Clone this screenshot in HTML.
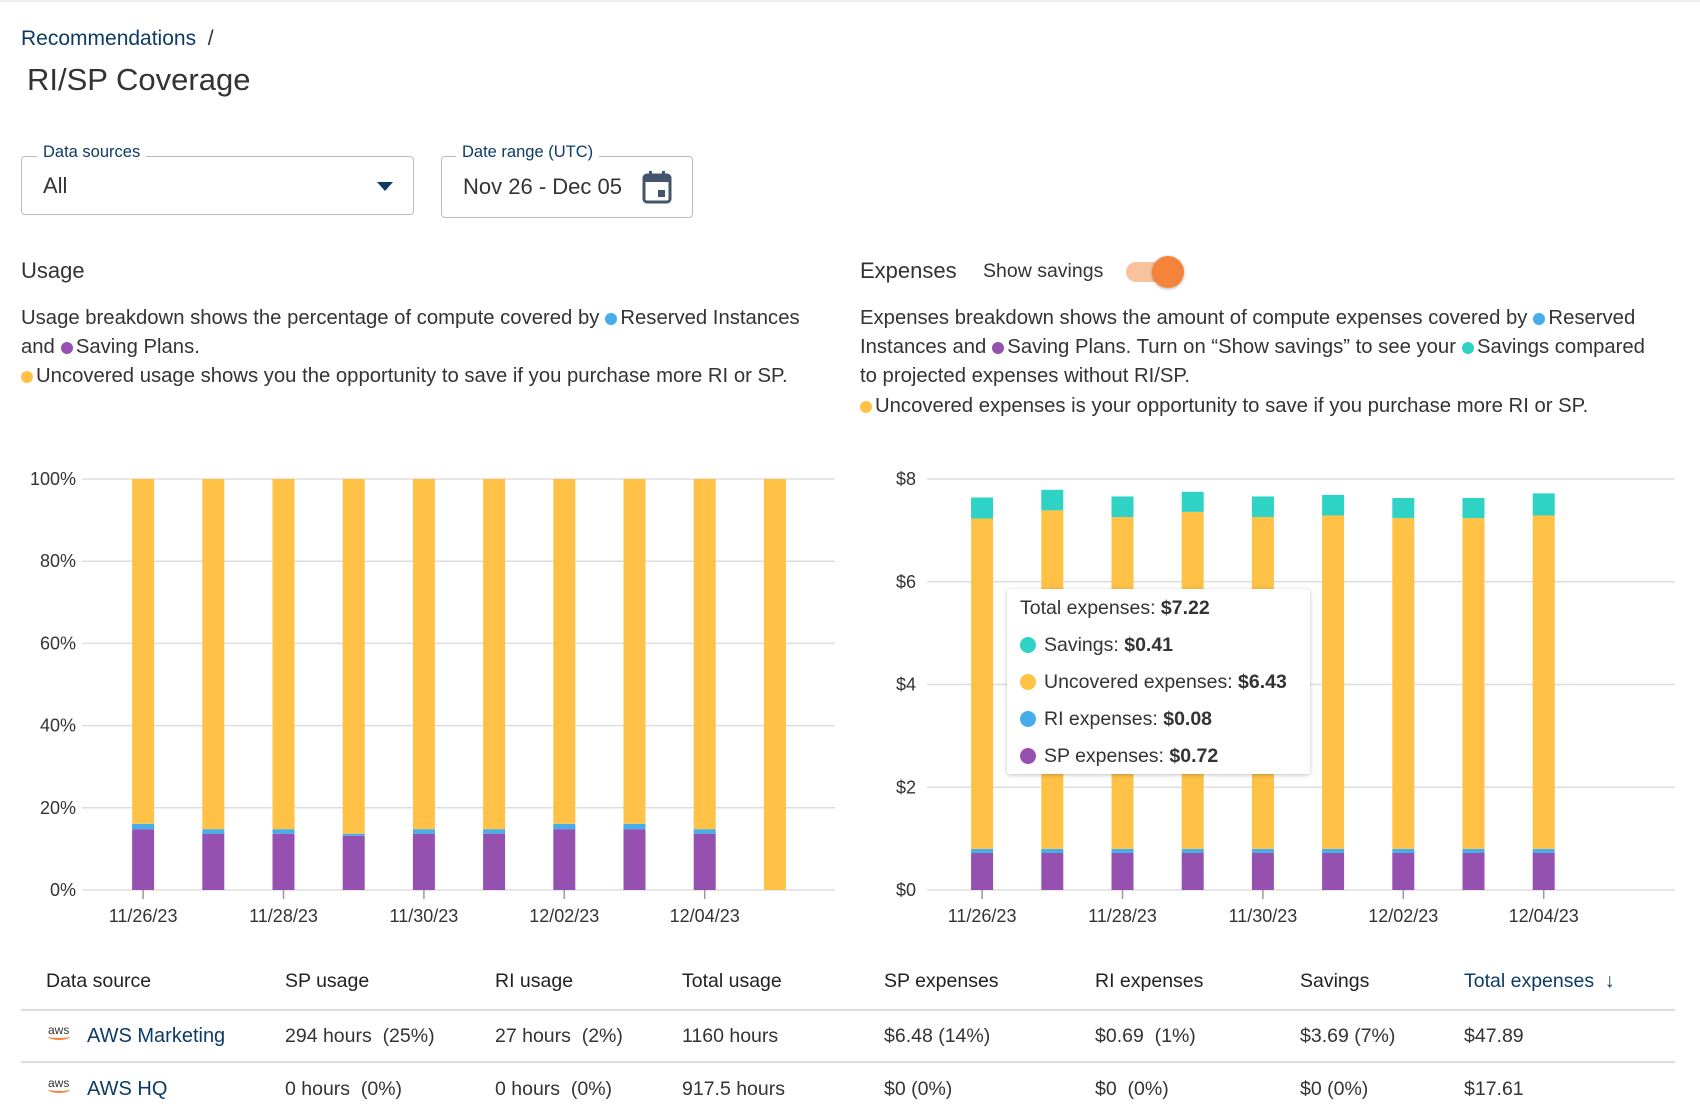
<!DOCTYPE html>
<html><head><meta charset="utf-8">
<style>
body{margin:0;width:1700px;height:1109px;background:#fff;font-family:"Liberation Sans",sans-serif;color:#333;position:relative;overflow:hidden}
.a{position:absolute;white-space:nowrap}
.dot{display:inline-block;width:12px;height:12px;border-radius:50%;vertical-align:-1px;margin:0 3px 0 2px}
.t{font-size:20.3px}
.th{font-size:19.5px;color:#222}
.td{font-size:19.5px;color:#333}
</style></head><body>
<div class="a" style="left:0;top:0;width:1700px;height:2px;background:#eee"></div>
<div class="a" style="left:21px;top:27px;font-size:21px"><span style="color:#0d3b66">Recommendations</span> <span style="color:#333">&nbsp;/</span></div>
<div class="a" style="left:27px;top:62px;font-size:31px;color:#333">RI/SP Coverage</div>

<div class="a" style="left:21px;top:156px;width:391px;height:57px;border:1.5px solid #bbb;border-radius:4px"></div>
<div class="a" style="left:37px;top:143px;padding:0 6px;background:#fff;font-size:16.5px;color:#0d3b66">Data sources</div>
<div class="a" style="left:43px;top:173px;font-size:22px;color:#333">All</div>
<div class="a" style="left:377px;top:182px;width:0;height:0;border-left:8px solid transparent;border-right:8px solid transparent;border-top:9px solid #0d3b66"></div>

<div class="a" style="left:441px;top:156px;width:250px;height:60px;border:1.5px solid #bbb;border-radius:4px"></div>
<div class="a" style="left:456px;top:143px;padding:0 6px;background:#fff;font-size:16.5px;color:#0d3b66">Date range (UTC)</div>
<div class="a" style="left:463px;top:174px;font-size:22px;color:#333">Nov 26 - Dec 05</div>
<svg class="a" style="left:642px;top:170px" width="30" height="34" viewBox="0 0 30 34"><rect x="2" y="5" width="26" height="27" rx="3" fill="none" stroke="#44546a" stroke-width="3"/><rect x="2" y="5" width="26" height="7" fill="#44546a"/><rect x="7" y="1" width="3" height="6" fill="#44546a"/><rect x="20" y="1" width="3" height="6" fill="#44546a"/><rect x="16" y="20" width="7" height="7" fill="#44546a"/></svg>

<div class="a" style="left:21px;top:258px;font-size:22px">Usage</div>
<div class="a t" style="left:21px;top:307px">Usage breakdown shows the percentage of compute covered by<span class="dot" style="background:#45AEEA;margin-left:6px"></span>Reserved Instances</div>
<div class="a t" style="left:21px;top:336px">and<span class="dot" style="background:#9650B0;margin-left:6px"></span>Saving Plans.</div>
<div class="a t" style="left:21px;top:365px"><span class="dot" style="background:#FFC247;margin-left:0"></span>Uncovered usage shows you the opportunity to save if you purchase more RI or SP.</div>

<div class="a" style="left:860px;top:258px;font-size:22px">Expenses</div>
<div class="a" style="left:983px;top:260px;font-size:19.5px">Show savings</div>
<div class="a" style="left:1126px;top:262px;width:50px;height:20px;border-radius:10px;background:#F8C29C"></div>
<div class="a" style="left:1152px;top:256px;width:32px;height:32px;border-radius:50%;background:#F5843A;box-shadow:0 1px 3px rgba(0,0,0,.3)"></div>
<div class="a t" style="left:860px;top:307px">Expenses breakdown shows the amount of compute expenses covered by<span class="dot" style="background:#45AEEA;margin-left:6px"></span>Reserved</div>
<div class="a t" style="left:860px;top:336px">Instances and<span class="dot" style="background:#9650B0;margin-left:6px"></span>Saving Plans. Turn on “Show savings” to see your<span class="dot" style="background:#2ED3C5;margin-left:6px"></span>Savings compared</div>
<div class="a t" style="left:860px;top:365px">to projected expenses without RI/SP.</div>
<div class="a t" style="left:860px;top:395px"><span class="dot" style="background:#FFC247;margin-left:0"></span>Uncovered expenses is your opportunity to save if you purchase more RI or SP.</div>

<svg class="a" id="usage" style="left:0;top:460px" width="850" height="480"></svg>
<svg class="a" id="exp" style="left:850px;top:460px" width="850" height="480"></svg>

<div class="a" style="left:1007px;top:589px;width:303px;height:185px;background:#fff;border-radius:3px;box-shadow:0 1px 4px rgba(0,0,0,.25);font-size:19.5px;color:#333">
<div class="a" style="left:13px;top:8px">Total expenses: <b>$7.22</b></div>
<div class="a" style="left:13px;top:45px"><span class="dot" style="width:16px;height:16px;background:#2ED3C5;margin:0 8px 0 0;vertical-align:-2px"></span>Savings: <b>$0.41</b></div>
<div class="a" style="left:13px;top:82px"><span class="dot" style="width:16px;height:16px;background:#FFC247;margin:0 8px 0 0;vertical-align:-2px"></span>Uncovered expenses: <b>$6.43</b></div>
<div class="a" style="left:13px;top:119px"><span class="dot" style="width:16px;height:16px;background:#45AEEA;margin:0 8px 0 0;vertical-align:-2px"></span>RI expenses: <b>$0.08</b></div>
<div class="a" style="left:13px;top:156px"><span class="dot" style="width:16px;height:16px;background:#9650B0;margin:0 8px 0 0;vertical-align:-2px"></span>SP expenses: <b>$0.72</b></div>
</div>

<div class="a th" style="left:46px;top:970px">Data source</div>
<div class="a th" style="left:285px;top:970px">SP usage</div>
<div class="a th" style="left:495px;top:970px">RI usage</div>
<div class="a th" style="left:682px;top:970px">Total usage</div>
<div class="a th" style="left:884px;top:970px">SP expenses</div>
<div class="a th" style="left:1095px;top:970px">RI expenses</div>
<div class="a th" style="left:1300px;top:970px">Savings</div>
<div class="a th" style="left:1464px;top:970px;color:#0d3b66">Total expenses &nbsp;↓</div>
<div class="a" style="left:21px;top:1009px;width:1654px;height:2px;background:#ddd"></div>

<div class="a" style="left:48px;top:1024px;font-size:12px;color:#333;line-height:12px">aws<div style="width:22px;height:5px;border-bottom:2px solid #F5843A;border-radius:0 0 50% 50%;margin-top:-3px"></div></div>
<div class="a td" style="left:87px;top:1025px;color:#0d3b66;font-size:20px">AWS Marketing</div>
<div class="a td" style="left:285px;top:1025px">294 hours &nbsp;(25%)</div>
<div class="a td" style="left:495px;top:1025px">27 hours &nbsp;(2%)</div>
<div class="a td" style="left:682px;top:1025px">1160 hours</div>
<div class="a td" style="left:884px;top:1025px">$6.48 (14%)</div>
<div class="a td" style="left:1095px;top:1025px">$0.69 &nbsp;(1%)</div>
<div class="a td" style="left:1300px;top:1025px">$3.69 (7%)</div>
<div class="a td" style="left:1464px;top:1025px">$47.89</div>
<div class="a" style="left:21px;top:1061px;width:1654px;height:2px;background:#ddd"></div>

<div class="a" style="left:48px;top:1077px;font-size:12px;color:#333;line-height:12px">aws<div style="width:22px;height:5px;border-bottom:2px solid #F5843A;border-radius:0 0 50% 50%;margin-top:-3px"></div></div>
<div class="a td" style="left:87px;top:1078px;color:#0d3b66;font-size:20px">AWS HQ</div>
<div class="a td" style="left:285px;top:1078px">0 hours &nbsp;(0%)</div>
<div class="a td" style="left:495px;top:1078px">0 hours &nbsp;(0%)</div>
<div class="a td" style="left:682px;top:1078px">917.5 hours</div>
<div class="a td" style="left:884px;top:1078px">$0 (0%)</div>
<div class="a td" style="left:1095px;top:1078px">$0 &nbsp;(0%)</div>
<div class="a td" style="left:1300px;top:1078px">$0 (0%)</div>
<div class="a td" style="left:1464px;top:1078px">$17.61</div>

<script>
const dates = ["11/26/23","11/27/23","11/28/23","11/29/23","11/30/23","12/01/23","12/02/23","12/03/23","12/04/23","12/05/23"];
const usageSP = [14.8,13.7,13.7,13.2,13.7,13.7,14.8,14.8,13.7,0];
const usageRI = [1.3,1.1,1.1,0.5,1.1,1.1,1.3,1.3,1.1,0];
const usageTicks = [0,20,40,60,80,100];
const expSP = [0.72,0.72,0.72,0.72,0.72,0.72,0.72,0.72,0.72,null];
const expRI = [0.08,0.08,0.08,0.08,0.08,0.08,0.08,0.08,0.08,null];
const expUncovered = [6.43,6.59,6.46,6.56,6.46,6.49,6.44,6.44,6.49,null];
const expSavings = [0.41,0.40,0.40,0.39,0.40,0.40,0.39,0.39,0.43,null];
const expTicks = [0,2,4,6,8];
const NS="http://www.w3.org/2000/svg";
function mk(svg,tag,attrs){const e=document.createElementNS(NS,tag);for(const k in attrs)e.setAttribute(k,attrs[k]);svg.appendChild(e);return e;}
function chart(svgId,opts){
  const svg=document.getElementById(svgId);
  const y0=430,y1=19;
  const yS=v=>y0-(v/opts.max)*(y0-y1);
  const bandStart=opts.bandStart,step=70.2,bw=22;
  const xC=i=>bandStart+step*(i+0.5);
  opts.ticks.forEach(t=>{
    const g=mk(svg,'line',{x1:opts.gx0,x2:opts.gx1,y1:yS(t),y2:yS(t),stroke:'#ddd','stroke-width':1.5});
    
    
    const tx=mk(svg,'text',{x:opts.lx,y:yS(t)+6,'text-anchor':'end','font-size':18,fill:'#333','font-family':'Liberation Sans, sans-serif'});
    tx.textContent=opts.fmt(t);
    
    
  });
  dates.forEach((d,i)=>{
    let base=0;
    opts.series.forEach(s=>{
      const v=s.data[i];
      if(v==null||v<=0)return;
      const r=mk(svg,'rect',{x:xC(i)-bw/2,y:yS(base+v),width:bw,height:yS(base)-yS(base+v),fill:s.color});
      
      
      base+=v;
    });
    if(i%2===0 && i<9){
      const tk=mk(svg,'line',{x1:xC(i),x2:xC(i),y1:y0,y2:y0+9,stroke:'#999','stroke-width':1.5});
      
      
      const tl=mk(svg,'text',{x:xC(i),y:y0+32,'text-anchor':'middle','font-size':18,fill:'#333','font-family':'Liberation Sans, sans-serif'});
      tl.textContent=d;
      
      
    }
  });
}
chart('usage',{max:100,ticks:usageTicks,fmt:t=>t+'%',gx0:82,gx1:835,lx:76,bandStart:108,
  series:[{name:'sp',data:usageSP,color:'#9650B0'},{name:'ri',data:usageRI,color:'#45AEEA'},
          {name:'uncovered',data:usageSP.map((v,i)=>100-v-usageRI[i]),color:'#FFC247'}]});
chart('exp',{max:8,ticks:expTicks,fmt:t=>'$'+t,gx0:77,gx1:825,lx:66,bandStart:97,
  series:[{name:'sp',data:expSP,color:'#9650B0'},{name:'ri',data:expRI,color:'#45AEEA'},
          {name:'uncovered',data:expUncovered,color:'#FFC247'},{name:'savings',data:expSavings,color:'#2ED3C5'}]});
</script>
</body></html>
